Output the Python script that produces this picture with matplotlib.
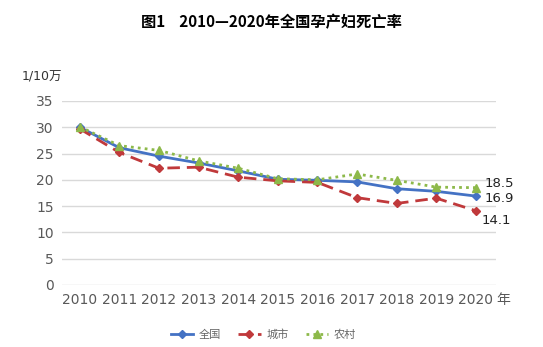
import numpy as np
import matplotlib.pyplot as plt

plt.rcParams['font.family'] = ['DejaVu Sans', 'Noto Sans CJK SC']

years = ['2010', '2011', '2012', '2013', '2014', '2015', '2016', '2017', '2018', '2019', '2020']
national = [30.0, 26.1, 24.5, 23.2, 21.7, 20.1, 19.9, 19.6, 18.3, 17.8, 16.9]
urban = [29.7, 25.2, 22.2, 22.4, 20.5, 19.8, 19.5, 16.6, 15.5, 16.5, 14.1]
rural = [30.1, 26.5, 25.6, 23.6, 22.2, 20.2, 20.0, 21.1, 19.9, 18.6, 18.5]
names = ['全国', '城市', '农村']

x = np.arange(len(years))

fig = plt.figure(figsize=(5.43, 3.47), dpi=100)
ax = fig.add_axes([0.114, 0.179, 0.799, 0.530])

ax.plot(x, national, color='#4472c4', lw=2, marker='D', ms=4.5, label=names[0])
ax.plot(x, urban, color='#c0393b', lw=2, ls=(0, (4.5, 2.5)), marker='D', ms=4.5, label=names[1])
ax.plot(x, rural, color='#8db94a', lw=2, ls=(0, (1, 1.5)), marker='^', ms=6, label=names[2])

ax.set_xlim(-0.45, 10.5)
ax.set_ylim(0, 35)
ax.set_yticks(range(0, 36, 5))
ax.set_xticks(x)
ax.set_xticklabels(years)
ax.grid(axis='y', color='#d9d9d9', lw=1)
ax.set_axisbelow(True)
for s in ax.spines.values():
    s.set_visible(False)
ax.tick_params(length=0, labelsize=10, colors='#595959', pad=6)

# end labels
ax.annotate(f'{rural[-1]}', (x[-1], rural[-1]), xytext=(6, 3), textcoords='offset points',
            fontsize=9.5, va='center', color='#222222')
ax.annotate(f'{national[-1]}', (x[-1], national[-1]), xytext=(6, -2), textcoords='offset points',
            fontsize=9.5, va='center', color='#222222')
ax.annotate(f'{urban[-1]}', (x[-1], urban[-1]), xytext=(4, -7), textcoords='offset points',
            fontsize=9.5, va='center', color='#222222')

fig.text(0.5, 0.935, '图1    2010—2020年全国孕产妇死亡率', ha='center', va='center',
         fontsize=11, fontweight='bold', family=['Noto Sans CJK SC'])
fig.text(0.04, 0.778, '1/10万', ha='left', va='center', fontsize=9, color='#333333',
         family=['DejaVu Sans', 'Noto Sans CJK SC'])
fig.text(0.914, 0.135, '年', ha='left', va='center', fontsize=10, color='#595959',
         family=['Noto Sans CJK SC'])

fig.legend(loc='center', bbox_to_anchor=(0.485, 0.035), ncol=3, frameon=False,
           labelcolor='#666666', handlelength=2.0, handletextpad=0.5, columnspacing=1.6,
           prop={'family': ['Noto Sans CJK SC'], 'size': 8})

fig.savefig('out.png', dpi=100)
